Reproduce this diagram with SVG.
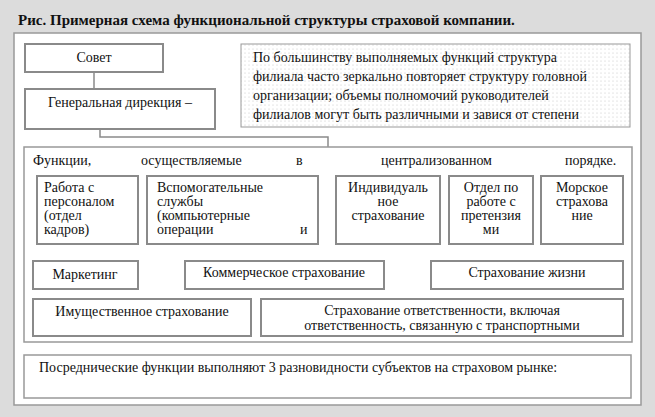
<svg xmlns="http://www.w3.org/2000/svg" width="655" height="417" viewBox="0 0 655 417" font-family="'Liberation Serif','Times New Roman','DejaVu Serif',serif">
<defs>
<pattern id="dots" width="4" height="4" patternUnits="userSpaceOnUse"><rect width="4" height="4" fill="#fff"/><circle cx="1" cy="1" r="0.5" fill="#bbb"/></pattern>
</defs>
<style>
.b{fill:#fff;stroke:#8a8a8a;stroke-width:2}
text{font-family:'Liberation Serif','Times New Roman','DejaVu Serif',serif;font-size:14px;fill:#111}
.c{stroke:#8a8a8a;stroke-width:1.5;fill:none}
</style>
<rect width="655" height="417" fill="#dcdcdc"/>
<rect x="14" y="33" width="627" height="372" fill="#fff" stroke="#999" stroke-width="1.5"/>
<text x="18" y="25" font-weight="bold" style="font-size:15px">Рис. Примерная схема функциональной структуры страховой компании.</text>
<g id="connectors">
<path class="c" d="M94 72V89 M100 129V137H328V248"/>
<path class="c" d="M81 244V251H328 M232 244V251 M90 251V261 M280 251V261"/>
<path class="c" d="M403 244V251H583V244 M497 244V251 M518 251V261"/>
<path class="c" d="M214 289V299 M355 289V299"/>
</g>
<g id="sovet"><rect class="b" x="25" y="44" width="138" height="28"/><text x="94" y="62" text-anchor="middle">Совет</text></g>
<g id="gendir"><rect class="b" x="25" y="89" width="190" height="40"/><text x="120" y="107" text-anchor="middle">Генеральная дирекция –</text></g>
<g id="note"><rect x="241" y="44" width="389" height="83" fill="url(#dots)" stroke="#999" stroke-width="1"/>
<text x="253" y="62">По большинству выполняемых функций структура</text>
<text x="253" y="81">филиала часто зеркально повторяет структуру головной</text>
<text x="253" y="100">организации; объемы полномочий руководителей</text>
<text x="253" y="119">филиалов могут быть различными и завися от степени</text></g>
<g id="functions"><rect x="24" y="147" width="608" height="195" fill="#fff" stroke="#999" stroke-width="1.5"/>
<text x="33" y="165">Функции,</text><text x="141" y="165">осуществляемые</text><text x="296" y="165">в</text>
<text x="381" y="165">централизованном</text><text x="565" y="165">порядке.</text></g>
<g id="personal"><rect class="b" x="37" y="176" width="101" height="68"/>
<text x="44" y="192">Работа с</text><text x="44" y="206">персоналом</text><text x="44" y="220">(отдел</text><text x="44" y="234">кадров)</text></g>
<g id="vspom"><rect class="b" x="147" y="176" width="171" height="68"/>
<text x="157" y="192">Вспомогательные</text><text x="157" y="206">службы</text><text x="157" y="220">(компьютерные</text><text x="157" y="234">операции</text><text x="300" y="234">и</text></g>
<g id="indiv"><rect class="b" x="336" y="176" width="104" height="68"/>
<text x="388" y="192" text-anchor="middle">Индивидуаль</text><text x="388" y="206" text-anchor="middle">ное</text><text x="388" y="220" text-anchor="middle">страхование</text></g>
<g id="pretenz"><rect class="b" x="449" y="176" width="84" height="68"/>
<text x="491" y="192" text-anchor="middle">Отдел по</text><text x="491" y="206" text-anchor="middle">работе с</text><text x="491" y="220" text-anchor="middle">претензия</text><text x="491" y="234" text-anchor="middle">ми</text></g>
<g id="morskoe"><rect class="b" x="541" y="176" width="82" height="68"/>
<text x="582" y="192" text-anchor="middle">Морское</text><text x="582" y="206" text-anchor="middle">страхова</text><text x="582" y="220" text-anchor="middle">ние</text></g>
<g id="marketing"><rect class="b" x="33" y="261" width="105" height="28"/><text x="85" y="279" text-anchor="middle">Маркетинг</text></g>
<g id="kommerch"><rect class="b" x="185" y="261" width="199" height="28"/><text x="284" y="277" text-anchor="middle">Коммерческое страхование</text></g>
<g id="life"><rect class="b" x="431" y="261" width="192" height="28"/><text x="527" y="277" text-anchor="middle">Страхование жизни</text></g>
<g id="imush"><rect class="b" x="33" y="299" width="218" height="37"/><text x="142" y="316" text-anchor="middle">Имущественное страхование</text></g>
<g id="otvet"><rect class="b" x="261" y="299" width="362" height="37"/>
<text x="442" y="315" text-anchor="middle">Страхование ответственности, включая</text><text x="442" y="330" text-anchor="middle">ответственность, связанную с транспортными</text></g>
<g id="posred"><rect x="24" y="355" width="607" height="43" fill="#fff" stroke="#999" stroke-width="1.5"/>
<text x="39" y="372">Посреднические функции выполняют 3 разновидности субъектов на страховом рынке:</text></g>
</svg>
